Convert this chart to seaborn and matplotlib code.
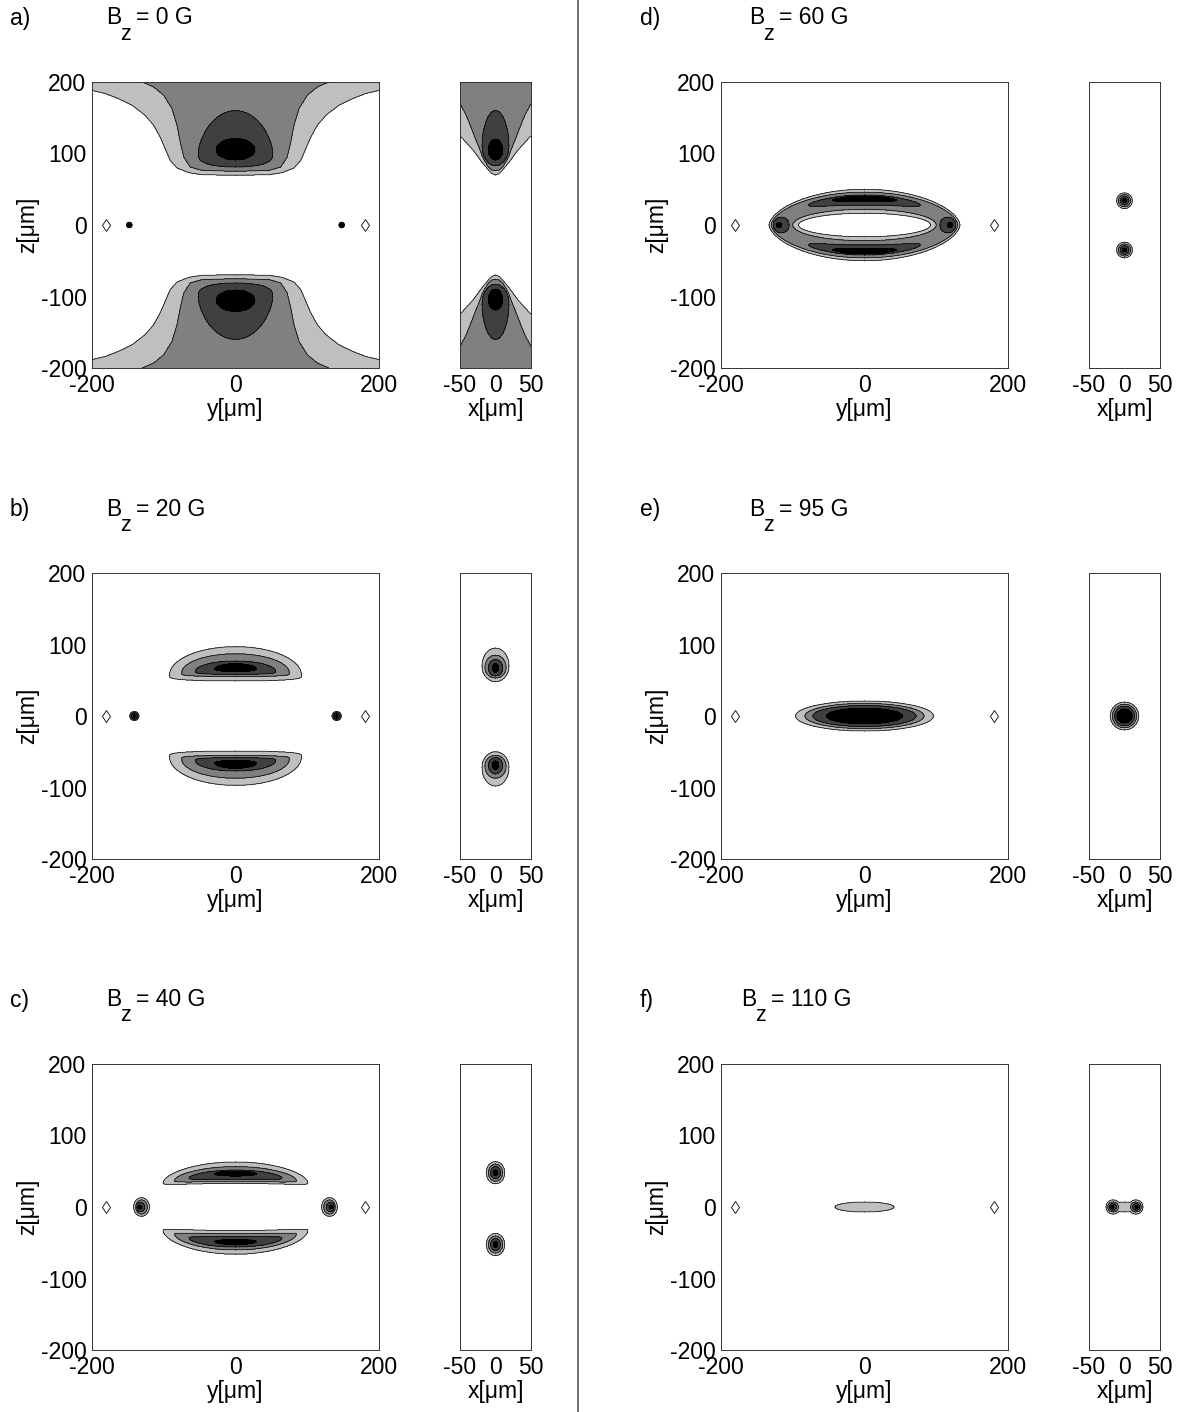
import numpy as np
import matplotlib
matplotlib.use("Agg")
import matplotlib.pyplot as plt
from matplotlib.lines import Line2D
import seaborn as sns

sns.set_theme(style="white")
plt.rcParams["font.family"] = ["Liberation Sans", "DejaVu Sans"]
plt.rcParams["axes.unicode_minus"] = False
plt.rcParams["text.color"] = "black"
plt.rcParams["axes.labelcolor"] = "black"
plt.rcParams["xtick.color"] = "black"
plt.rcParams["ytick.color"] = "black"

W, H = 1181, 1412
FS = 16.5

PANEL_LABELS = ["a)", "b)", "c)", "d)", "e)", "f)"]
FIELD_VALUES = ["0", "20", "40", "60", "95", "110"]
MAIN_TICKS_Y = [-200, 0, 200]
MAIN_TICKS_Z = [-200, -100, 0, 100, 200]
SIDE_TICKS_X = [-50, 0, 50]
DIAMOND_Y = [-180, 180]
DIAMOND_Z = [0, 0]

# fill colours for contour levels 0..4 (white -> black)
GRAYS = ["white", "0.75", "0.5", "0.25", "black"]

# a) big lobes: boundary z vs |y| (top lobe, bottom is mirrored)
A_LIGHT_Y = [0, 47, 65, 81.5, 91, 98, 105, 114, 126, 144, 163, 181, 200]
A_LIGHT_Z = [69.5, 70.4, 73.2, 79.7, 90.4, 106.8, 123, 139.4, 153.4, 167.4, 176.7, 183.7, 188.3]
A_MID_Y = [0, 47, 63, 72, 77, 81.5, 88.5, 100, 114, 130, 150]
A_MID_Z = [75, 76.5, 81, 95, 116, 139.4, 162.7, 181.4, 193, 200, 240]
A_SIDE_LIGHT_X = [0, 5, 10, 15, 20, 25, 31, 40, 50]
A_SIDE_LIGHT_Z = [70, 72, 77, 83, 89, 96, 104, 114, 125]
A_SIDE_MID_X = [0, 5, 10, 15, 19, 23, 28, 35, 41, 50]
A_SIDE_MID_Z = [76, 77, 81, 89, 97, 108, 120, 138, 153, 170]

# bands: (level, side, |coord| list, z list)
A_MAIN_BANDS = [(1, 1, A_LIGHT_Y, A_LIGHT_Z), (2, 1, A_MID_Y, A_MID_Z),
                (1, -1, A_LIGHT_Y, A_LIGHT_Z), (2, -1, A_MID_Y, A_MID_Z)]
A_SIDE_BANDS = [(1, 1, A_SIDE_LIGHT_X, A_SIDE_LIGHT_Z), (2, 1, A_SIDE_MID_X, A_SIDE_MID_Z),
                (1, -1, A_SIDE_LIGHT_X, A_SIDE_LIGHT_Z), (2, -1, A_SIDE_MID_X, A_SIDE_MID_Z)]

# blobs: (level, centre, z centre, half width, half height below, half height above,
#         [exponent below, exponent above, bend])
A_MAIN_BLOBS = [
    (3, 0, 100, 52, 19, 60, 3, 1.6), (4, 0, 105, 27, 14, 16),
    (3, 0, -100, 52, 60, 19, 1.6, 3), (4, 0, -105, 27, 16, 14),
    (1, -148, 0, 4, 4, 4), (2, -148, 0, 3.3, 3.3, 3.3), (3, -148, 0, 2.5, 2.5, 2.5), (4, -148, 0, 1, 1, 1),
    (1, 148, 0, 4, 4, 4), (2, 148, 0, 3.3, 3.3, 3.3), (3, 148, 0, 2.5, 2.5, 2.5), (4, 148, 0, 1, 1, 1),
]
A_SIDE_BLOBS = [
    (3, 0, 111, 19, 28, 49, 2, 1.8), (4, 0, 105, 10, 14, 15),
    (3, 0, -111, 19, 49, 28, 1.8, 2), (4, 0, -104, 10, 15, 14),
]

B_MAIN_BLOBS = [
    (1, 0, 57, 92, 8, 40, 4, 2), (2, 0, 60, 75, 5, 27, 4, 2), (3, 0, 62, 56, 4, 15, 3, 2), (4, 0, 66, 29, 4, 7),
    (1, 0, -57, 92, 40, 8, 2, 4), (2, 0, -60, 75, 27, 5, 2, 4), (3, 0, -62, 56, 15, 4, 2, 3), (4, 0, -66, 29, 7, 4),
    (1, -141, 0, 6.5, 6.5, 6.5), (2, -141, 0, 5, 5, 5), (3, -141, 0, 3.8, 3.8, 3.8), (4, -141, 0, 1.6, 1.6, 1.6),
    (1, 141, 0, 6.5, 6.5, 6.5), (2, 141, 0, 5, 5, 5), (3, 141, 0, 3.8, 3.8, 3.8), (4, 141, 0, 1.6, 1.6, 1.6),
]
B_SIDE_BLOBS = [
    (1, 0, 70, 19, 22, 25), (2, 0, 68, 15, 15, 17), (3, 0, 67, 10, 11, 12), (4, 0, 67, 4.5, 6, 6),
    (1, 0, -72, 19, 26, 22), (2, 0, -70, 15, 17, 15), (3, 0, -69, 10, 12, 11), (4, 0, -69, 4.5, 6, 6),
]

C_MAIN_BLOBS = [
    (1, 0, 38, 101, 5, 25, 2, 2, -0.0005), (2, 0, 40, 85, 4.5, 16.5, 2, 2, -0.0005),
    (3, 0, 42, 65, 3.3, 9.7, 2, 2, -0.0005), (4, 0, 46, 29, 2.6, 4.3),
    (1, 0, -37, 101, 29, 4, 2, 2, 0.0005), (2, 0, -41, 85, 19, 3.5, 2, 2, 0.0005),
    (3, 0, -45, 65, 11, 3.5, 2, 2, 0.0005), (4, 0, -48, 29, 5, 2.6),
    (1, -131, 0, 11, 13, 13), (2, -131, 0, 8, 10, 10), (3, -132, 0, 5.5, 6.5, 6.5), (4, -133, 0, 2.5, 2.5, 2.5),
    (1, 131, 0, 11, 13, 13), (2, 131, 0, 8, 10, 10), (3, 132, 0, 5.5, 6.5, 6.5), (4, 133, 0, 2.5, 2.5, 2.5),
]
C_SIDE_BLOBS = [
    (1, 0, 48, 13, 15.5, 15.5), (2, 0, 48, 10, 12, 12), (3, 0, 48, 7, 8.5, 8.5), (4, 0, 48, 3, 4, 4),
    (1, 0, -52.5, 13, 15.5, 15.5), (2, 0, -52.5, 10, 12, 12), (3, 0, -52.5, 7, 8.5, 8.5), (4, 0, -52.5, 3, 4, 4),
]

D_MAIN_BLOBS = [
    (1, 0, 0, 133, 50, 50, 1.7, 1.7), (2, 0, 0, 130, 46, 46, 1.7, 1.7),
    (3, 0, 35, 78, 7, 7, 2, 2, -0.0012), (4, 0, 37, 45, 3.5, 3.5, 2, 2, -0.0012),
    (3, 0, -35, 78, 7, 7, 2, 2, 0.0012), (4, 0, -37, 45, 3.5, 3.5, 2, 2, 0.0012),
    (3, -116, 0, 11, 11, 11), (4, -119, 0, 3.5, 3.5, 3.5),
    (3, 116, 0, 11, 11, 11), (4, 119, 0, 3.5, 3.5, 3.5),
    (1, 0, 0, 100, 22, 22), (0, 0, 0, 92, 16.5, 16.5),
]
D_SIDE_BLOBS = [
    (1, 0, 34, 11, 11, 11), (2, 0, 34, 8.5, 8.5, 8.5), (3, 0, 34, 6, 6, 6), (4, 0, 34, 2.8, 2.8, 2.8),
    (1, 0, -35, 11, 11, 11), (2, 0, -35, 8.5, 8.5, 8.5), (3, 0, -35, 6, 6, 6), (4, 0, -35, 2.8, 2.8, 2.8),
]

E_MAIN_BLOBS = [(1, 0, 0, 96, 21, 21), (2, 0, 0, 83, 17.7, 17.7), (3, 0, 0, 72, 14.7, 14.7), (4, 0, 0, 53, 11, 11)]
E_SIDE_BLOBS = [(1, 0, 0, 20, 19.5, 19.5), (2, 0, 0, 17, 16.5, 16.5), (3, 0, 0, 14, 13.5, 13.5), (4, 0, 0, 10.5, 10, 10)]

F_MAIN_BLOBS = [(1, 0, 0, 41, 7, 7)]
F_SIDE_BLOBS = [
    (1, -16, 0, 10, 10, 10), (1, 16, 0, 10, 10, 10), (1, 0, 0, 18, 7, 7),
    (2, -16, 0, 7.5, 7, 7), (2, 16, 0, 7.5, 7, 7),
    (3, -16.5, 0, 5, 4.5, 4.5), (3, 16.5, 0, 5, 4.5, 4.5),
    (4, -17, 0, 2, 2, 2), (4, 17, 0, 2, 2, 2),
]

MAIN_BANDS = [A_MAIN_BANDS, [], [], [], [], []]
SIDE_BANDS = [A_SIDE_BANDS, [], [], [], [], []]
MAIN_BLOBS = [A_MAIN_BLOBS, B_MAIN_BLOBS, C_MAIN_BLOBS, D_MAIN_BLOBS, E_MAIN_BLOBS, F_MAIN_BLOBS]
SIDE_BLOBS = [A_SIDE_BLOBS, B_SIDE_BLOBS, C_SIDE_BLOBS, D_SIDE_BLOBS, E_SIDE_BLOBS, F_SIDE_BLOBS]

# layout in pixels
ROW_TOP = [82, 573, 1064]
TITLE_Y = [18, 509, 1000]
MAIN_LEFT = [92, 721]
SIDE_LEFT = [460, 1089]
LABEL_X = [10, 640]
B_X = [106, 106, 106, 749, 749, 741]


def paint(ax, xs, zs, bands, blobs):
    X, Z = np.meshgrid(xs, zs)
    F = np.zeros_like(X)
    for lvl, side, bx, bz in bands:
        F[side * Z >= np.interp(np.abs(X), bx, bz)] = lvl
    for reg in blobs:
        lvl, xc, zc, a, bd, bu, *rest = reg
        pd, pu, bend = list(rest) + [2, 2, 0][len(rest):]
        dz = Z - zc - bend * (X - xc) ** 2
        b = np.where(dz < 0, bd, bu)
        p = np.where(dz < 0, pd, pu)
        F[((X - xc) / a) ** 2 + (np.abs(dz) / b) ** p <= 1] = lvl
    ax.contourf(X, Z, F, levels=[-0.5, 0.5, 1.5, 2.5, 3.5, 4.5], colors=GRAYS)
    ax.contour(X, Z, F, levels=[0.5, 1.5, 2.5, 3.5], colors="black", linewidths=0.5)


def style(ax):
    for s in ax.spines.values():
        s.set_linewidth(0.7)
        s.set_color("0.2")
    ax.tick_params(length=0, labelsize=FS, pad=4)


fig = plt.figure(figsize=(W / 100, H / 100), dpi=100)

ys = np.linspace(-200, 200, 801)
zs = np.linspace(-200, 200, 801)
xs = np.linspace(-50, 50, 201)

for i in range(6):
    col, row = i // 3, i % 3
    bottom = 1 - (ROW_TOP[row] + 286) / H
    ax = fig.add_axes([MAIN_LEFT[col] / W, bottom, 287 / W, 286 / H])
    paint(ax, ys, zs, MAIN_BANDS[i], MAIN_BLOBS[i])
    ax.plot(DIAMOND_Y, DIAMOND_Z, linestyle="none", marker="d", ms=6,
            mfc="white", mec="black", mew=0.6)
    ax.set_xlim(-200, 200)
    ax.set_ylim(-200, 200)
    ax.set_xticks(MAIN_TICKS_Y)
    ax.set_yticks(MAIN_TICKS_Z)
    ax.set_xlabel("y[μm]", fontsize=FS, labelpad=1)
    ax.set_ylabel("z[μm]", fontsize=FS, labelpad=1)
    style(ax)

    axs = fig.add_axes([SIDE_LEFT[col] / W, bottom, 71 / W, 286 / H])
    paint(axs, xs, zs, SIDE_BANDS[i], SIDE_BLOBS[i])
    axs.set_xlim(-50, 50)
    axs.set_ylim(-200, 200)
    axs.set_xticks(SIDE_TICKS_X)
    axs.set_yticks([])
    axs.set_xlabel("x[μm]", fontsize=FS, labelpad=1)
    style(axs)

    ty = 1 - TITLE_Y[row] / H
    fig.text(LABEL_X[col] / W, ty, PANEL_LABELS[i], fontsize=FS, va="center")
    fig.text(B_X[i] / W, ty, "B", fontsize=FS, va="center")
    fig.text((B_X[i] + 14) / W, ty - 16 / H, "z", fontsize=FS - 1, va="center")
    fig.text((B_X[i] + 30) / W, ty, "= " + FIELD_VALUES[i] + " G", fontsize=FS, va="center")

fig.add_artist(Line2D([578 / W, 578 / W], [0, 1], color="0.35", lw=1.2))

fig.savefig("out.png", dpi=100)
